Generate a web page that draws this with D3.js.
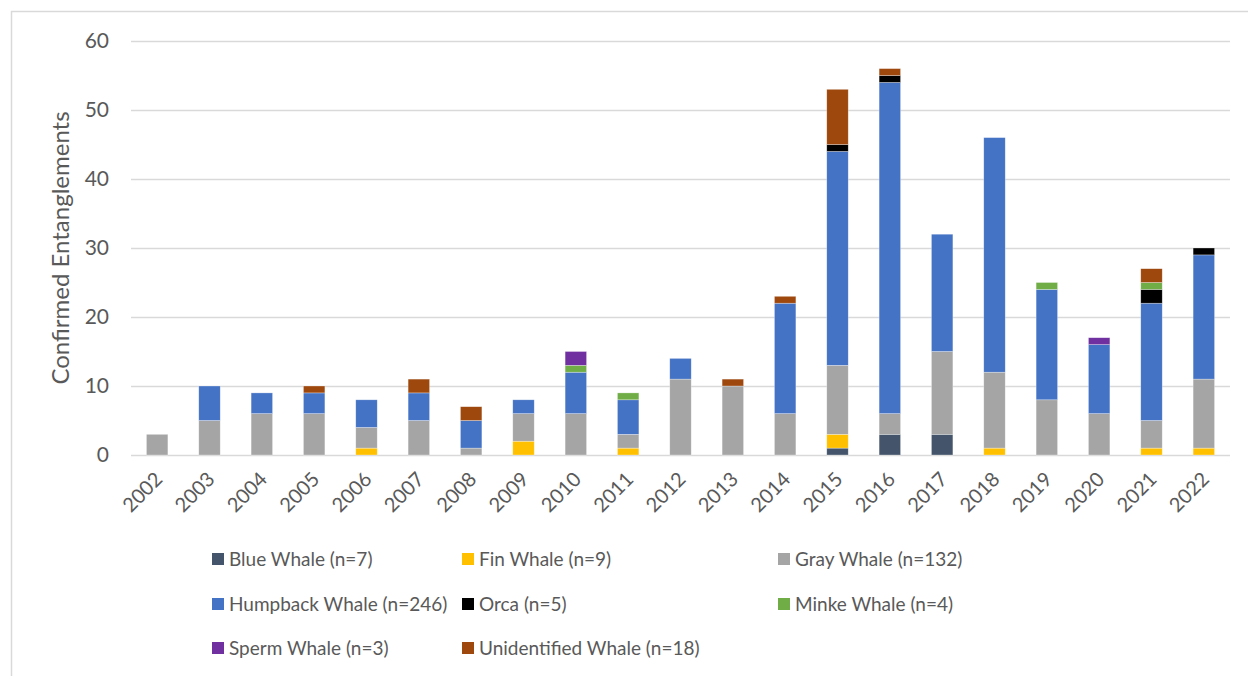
<!DOCTYPE html>
<html>
<head>
<meta charset="utf-8">
<script src="https://cdn.jsdelivr.net/npm/d3@7"></script>
<style>
  body { margin: 0; background: #fff; }
  svg { display: block; font-family: Lato, "Open Sans", sans-serif; }
</style>
</head>
<body>
<script>
const years = ['2002', '2003', '2004', '2005', '2006', '2007', '2008', '2009', '2010', '2011',
  '2012', '2013', '2014', '2015', '2016', '2017', '2018', '2019', '2020', '2021', '2022'];

const blueWhale    = [0, 0, 0, 0, 0, 0, 0, 0, 0, 0, 0, 0, 0, 1, 3, 3, 0, 0, 0, 0, 0];
const finWhale     = [0, 0, 0, 0, 1, 0, 0, 2, 0, 1, 0, 0, 0, 2, 0, 0, 1, 0, 0, 1, 1];
const grayWhale    = [3, 5, 6, 6, 3, 5, 1, 4, 6, 2, 11, 10, 6, 10, 3, 12, 11, 8, 6, 4, 10];
const humpback     = [0, 5, 3, 3, 4, 4, 4, 2, 6, 5, 3, 0, 16, 31, 48, 17, 34, 16, 10, 17, 18];
const orca         = [0, 0, 0, 0, 0, 0, 0, 0, 0, 0, 0, 0, 0, 1, 1, 0, 0, 0, 0, 2, 1];
const minkeWhale   = [0, 0, 0, 0, 0, 0, 0, 0, 1, 1, 0, 0, 0, 0, 0, 0, 0, 1, 0, 1, 0];
const spermWhale   = [0, 0, 0, 0, 0, 0, 0, 0, 2, 0, 0, 0, 0, 0, 0, 0, 0, 0, 1, 0, 0];
const unidentified = [0, 0, 0, 1, 0, 2, 2, 0, 0, 0, 0, 1, 1, 8, 1, 0, 0, 0, 0, 2, 0];

const seriesNames = ['Blue Whale (n=7)', 'Fin Whale (n=9)', 'Gray Whale (n=132)',
  'Humpback Whale (n=246)', 'Orca (n=5)', 'Minke Whale (n=4)',
  'Sperm Whale (n=3)', 'Unidentified Whale (n=18)'];
const seriesColors = ['#44546A', '#FFC000', '#A5A5A5', '#4472C4', '#000000', '#70AD47', '#7030A0', '#9E480E'];
const yTicks = [0, 10, 20, 30, 40, 50, 60];

const width = 1248;
const height = 676;
const margin = { top: 41, right: 18, bottom: 221, left: 131 };

const seriesValues = [blueWhale, finWhale, grayWhale, humpback, orca, minkeWhale, spermWhale, unidentified];
const keys = seriesNames;

// build a row per year for d3.stack
const table = years.map((y, i) => {
  const row = { year: y };
  keys.forEach((k, j) => { row[k] = seriesValues[j][i]; });
  return row;
});

const stacked = d3.stack().keys(keys)(table);

const svg = d3.select('body')
  .append('svg')
  .attr('width', width)
  .attr('height', height);

// chart frame
svg.append('rect')
  .attr('x', 11.5)
  .attr('y', 11.5)
  .attr('width', width + 20)
  .attr('height', height + 20)
  .attr('fill', 'none')
  .attr('stroke', '#d9d9d9')
  .attr('stroke-width', 1.5);

const x = d3.scaleBand()
  .domain(years)
  .range([margin.left, width - margin.right])
  .paddingInner(0.59)
  .paddingOuter(0.295);

const y = d3.scaleLinear()
  .domain([0, 60])
  .range([height - margin.bottom, margin.top]);

const color = d3.scaleOrdinal().domain(keys).range(seriesColors);

// gridlines
svg.append('g')
  .selectAll('line')
  .data(yTicks)
  .enter()
  .append('line')
  .attr('x1', margin.left)
  .attr('x2', width - margin.right)
  .attr('y1', d => Math.round(y(d)) + 0.5)
  .attr('y2', d => Math.round(y(d)) + 0.5)
  .attr('stroke', '#d9d9d9')
  .attr('stroke-width', 1.3);

// y axis labels
const yAxis = svg.append('g')
  .attr('transform', `translate(${margin.left - 22},0)`)
  .call(d3.axisLeft(y).tickValues(yTicks).tickSize(0).tickPadding(0));
yAxis.select('.domain').remove();
yAxis.selectAll('text')
  .attr('font-size', 21)
  .attr('fill', '#595959')
  .attr('font-family', 'Lato, "Open Sans", sans-serif');

// y axis title
svg.append('text')
  .attr('transform', `translate(69,${y(30)}) rotate(-90)`)
  .attr('text-anchor', 'middle')
  .attr('font-size', 24)
  .attr('fill', '#595959')
  .text('Confirmed Entanglements');

// bars
const layers = svg.append('g')
  .selectAll('g')
  .data(stacked)
  .enter()
  .append('g')
  .attr('fill', d => color(d.key));

layers.selectAll('rect')
  .data(d => d.filter(p => p[1] > p[0]))
  .enter()
  .append('rect')
  .attr('x', d => x(d.data.year))
  .attr('y', d => y(d[1]))
  .attr('width', x.bandwidth())
  .attr('height', d => y(d[0]) - y(d[1]))
  .attr('stroke', '#ffffff')
  .attr('stroke-opacity', 0.5)
  .attr('stroke-width', 0.6);

// x axis labels
const xAxis = svg.append('g')
  .attr('transform', `translate(0,${height - margin.bottom})`)
  .call(d3.axisBottom(x).tickSize(0).tickPadding(0));
xAxis.select('.domain').remove();
xAxis.selectAll('text')
  .attr('font-size', 20)
  .attr('fill', '#595959')
  .attr('font-family', 'Lato, "Open Sans", sans-serif')
  .attr('text-anchor', 'end')
  .attr('dy', 0)
  .attr('transform', 'translate(3,22) rotate(-45)')
  .attr('dominant-baseline', 'middle');

// legend
const legendCols = [212, 462, 778];
const legendRows = [559, 604, 648];

const legend = svg.append('g')
  .selectAll('g')
  .data(keys)
  .enter()
  .append('g')
  .attr('transform', (d, i) => `translate(${legendCols[i % 3]},${legendRows[Math.floor(i / 3)]})`);

legend.append('rect')
  .attr('x', 0)
  .attr('y', -6)
  .attr('width', 12)
  .attr('height', 12)
  .attr('fill', d => color(d));

legend.append('text')
  .attr('x', 17)
  .attr('y', 0)
  .attr('dy', '0.35em')
  .attr('font-size', 19)
  .attr('fill', '#595959')
  .text(d => d);
</script>
</body>
</html>
